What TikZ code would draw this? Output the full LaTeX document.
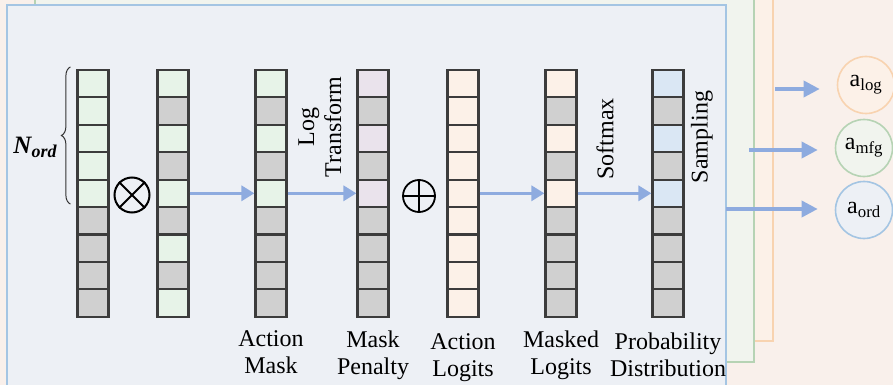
\documentclass[tikz,border=0pt]{standalone}
\usepackage{fontspec}
\setmainfont{Liberation Serif}
\usepackage{amsmath}
\usetikzlibrary{positioning,arrows.meta,decorations.pathreplacing}
\definecolor{bgpink}{HTML}{F9F0EB}
\definecolor{orfill}{HTML}{FCF1E8}
\definecolor{orline}{HTML}{F8D3B0}
\definecolor{grfill}{HTML}{F1F4EE}
\definecolor{grline}{HTML}{B6D3B4}
\definecolor{blfill}{HTML}{EDF0F5}
\definecolor{blline}{HTML}{A4C5E3}
\definecolor{arrowblue}{HTML}{8EABDF}
\definecolor{cellline}{HTML}{3C3C3C}
\definecolor{cgreen}{HTML}{E7F3E8}
\definecolor{cgray}{HTML}{D0D0D0}
\definecolor{cpurple}{HTML}{EAE3EC}
\definecolor{corange}{HTML}{FCF1E8}
\definecolor{cblue}{HTML}{DAE7F4}
\tikzset{
  cell/.style={draw=cellline, line width=2.2pt, minimum width=31pt, minimum height=27.4pt, inner sep=0pt},
  flow/.style={draw=arrowblue, line width=3.5pt, -{Triangle[length=13pt,width=15pt]}},
  outflow/.style={draw=arrowblue, line width=3.5pt, -{Triangle[length=16pt,width=16pt]}, shorten >=17pt},
  opsym/.style={circle, draw=black, line width=2pt, inner sep=0pt},
  lbl/.style={font=\fontsize{24}{27}\selectfont, align=center, inner sep=0pt},
  outc/.style={circle, line width=1.6pt, minimum size=57pt, inner sep=0pt, font=\fontsize{24}{27}\selectfont}
}
\begin{document}
\begin{tikzpicture}[x=1pt,y=-1pt]
\useasboundingbox (0,0) rectangle (893,385);
\fill[bgpink] (0,0) rectangle (893,385);
% nested frames
\filldraw[fill=orfill, draw=orline, line width=2pt] (36,-20) rectangle (773,341);
\filldraw[fill=grfill, draw=grline, line width=2pt] (35,-20) rectangle (754,362);
\filldraw[fill=blfill, draw=blline, line width=2pt] (7,5) rectangle (726,400);

% columns
\foreach \c [count=\i] in {cgreen,cgreen,cgreen,cgreen,cgreen,cgray,cgray,cgray,cgray}
  \node[cell, fill=\c] (in\i) at (93,{56.3+27.4*\i}) {};
\foreach \c [count=\i] in {cgreen,cgray,cgreen,cgray,cgreen,cgray,cgreen,cgray,cgreen}
  \node[cell, fill=\c] (sel\i) at (173,{56.3+27.4*\i}) {};
\foreach \c [count=\i] in {cgreen,cgray,cgreen,cgray,cgreen,cgray,cgray,cgray,cgray}
  \node[cell, fill=\c] (am\i) at (271,{56.3+27.4*\i}) {};
\foreach \c [count=\i] in {cpurple,cgray,cpurple,cgray,cpurple,cgray,cgray,cgray,cgray}
  \node[cell, fill=\c] (mp\i) at (373,{56.3+27.4*\i}) {};
\foreach \c [count=\i] in {corange,corange,corange,corange,corange,corange,corange,corange,corange}
  \node[cell, fill=\c] (al\i) at (463,{56.3+27.4*\i}) {};
\foreach \c [count=\i] in {corange,cgray,corange,cgray,corange,cgray,cgray,cgray,cgray}
  \node[cell, fill=\c] (ml\i) at (561,{56.3+27.4*\i}) {};
\foreach \c [count=\i] in {cblue,cgray,cblue,cgray,cblue,cgray,cgray,cgray,cgray}
  \node[cell, fill=\c] (pd\i) at (668,{56.3+27.4*\i}) {};

% brace and size label
\draw[decorate, decoration={brace, amplitude=9pt}, line width=1pt, draw=black!80]
  ([xshift=-6pt,yshift=4pt]in5.south west) -- ([xshift=-6pt,yshift=2pt]in1.north west);
\node[inner sep=0pt] (nord) at (35,147) {\fontsize{25}{28}\selectfont\bfseries\itshape N\raisebox{-0.35ex}{\fontsize{18}{18}\selectfont ord}};

% operators
\node[opsym, minimum size=35pt] (mul) at (132,195) {};
\draw[line width=2pt] (mul.45) -- (mul.225) (mul.135) -- (mul.315);
\node[opsym, minimum size=32pt, line width=1.8pt] (add) at (419,196) {};
\draw[line width=1.8pt] (add.north) -- (add.south) (add.east) -- (add.west);

\draw[flow] (sel5.east) -- (am5.west);
\draw[flow] (am5.east) -- (mp5.west);
\draw[flow] (al5.east) -- (ml5.west);
\draw[flow] (ml5.east) -- (pd5.west);

% texts
\node[lbl, rotate=90] (lbllog) at (320,127) {Log\\Transform};
\node[lbl, rotate=90] (lblsoft) at (605,139) {Softmax};
\node[lbl, rotate=90] (lblsamp) at (702,137) {Sampling};
\node[lbl, below=13pt of am9] (lblam) {Action\\Mask};
\node[lbl, below=13pt of mp9] (lblmp) {Mask\\Penalty};
\node[lbl, below=16pt of al9] (lblal) {Action\\Logits};
\node[lbl, below=13pt of ml9] (lblml) {Masked\\Logits};
\node[lbl, below=15pt of pd9] (lblpd) {Probability\\Distribution};

% outputs
\node[outc, draw=orline, fill=orfill] (alog) at (866,85) {a$_{\text{log}}$};
\node[outc, draw=grline, fill=grfill] (amfg) at (864,148) {a$_{\text{mfg}}$};
\node[outc, draw=blline, fill=blfill] (aord) at (864,210) {a$_{\text{ord}}$};
\coordinate (olog) at (775,89);
\coordinate (omfg) at (749,150);
\coordinate (oord) at (726,209);
\draw[outflow] (olog) -- (olog -| alog.west);
\draw[outflow] (omfg) -- (omfg -| amfg.west);
\draw[outflow] (oord) -- (oord -| aord.west);
\end{tikzpicture}
\end{document}
